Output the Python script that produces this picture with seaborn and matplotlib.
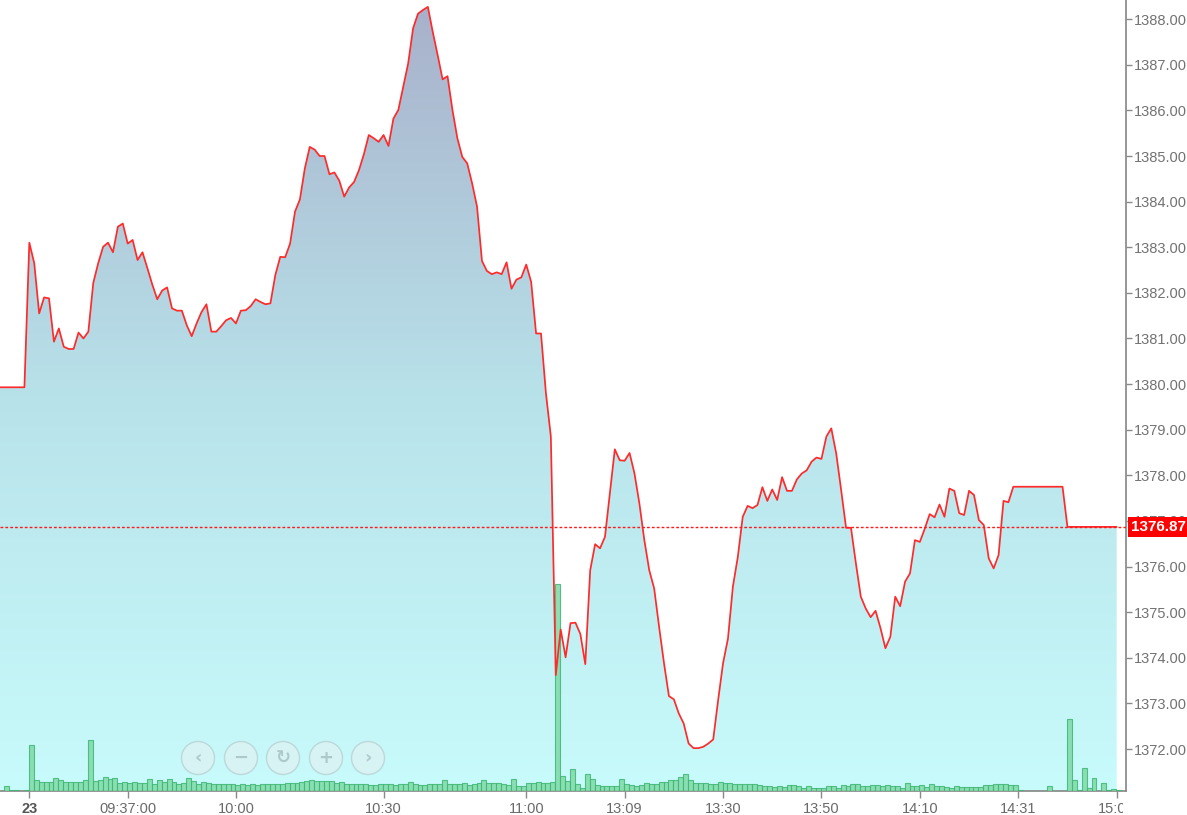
import numpy as np
import pandas as pd
import matplotlib
matplotlib.use('Agg')
import matplotlib.pyplot as plt
import seaborn as sns
from matplotlib.patches import Circle
from matplotlib.colors import LinearSegmentedColormap
from matplotlib.transforms import Bbox, TransformedBbox, IdentityTransform

# ── data: one point per minute bar ──────────────────
price = [
    1379.93, 1379.93, 1379.93, 1379.93, 1379.93, 1379.93,
    1383.10, 1382.65, 1381.55, 1381.90, 1381.88, 1380.93, 1381.22, 1380.82, 1380.77, 1380.77,
    1381.13, 1381.00, 1381.15, 1382.22, 1382.65, 1383.01, 1383.10, 1382.89, 1383.45, 1383.52,
    1383.08, 1383.16, 1382.72, 1382.89, 1382.54, 1382.18, 1381.86, 1382.05, 1382.12, 1381.66,
    1381.61, 1381.61, 1381.29, 1381.05, 1381.33, 1381.58, 1381.75, 1381.15, 1381.15, 1381.27,
    1381.40, 1381.45, 1381.33, 1381.61, 1381.62, 1381.71, 1381.86, 1381.80, 1381.75, 1381.77,
    1382.39, 1382.79, 1382.78, 1383.08, 1383.78, 1384.05, 1384.73, 1385.20, 1385.14, 1385.00,
    1385.00, 1384.60, 1384.64, 1384.46, 1384.11, 1384.31, 1384.43, 1384.69, 1385.04, 1385.46,
    1385.39, 1385.31, 1385.46, 1385.22, 1385.82, 1386.01, 1386.52, 1387.03, 1387.80, 1388.12,
    1388.20, 1388.27, 1387.72, 1387.21, 1386.68, 1386.75, 1386.01, 1385.39, 1384.98, 1384.84,
    1384.40, 1383.89, 1382.70, 1382.48, 1382.41, 1382.45, 1382.41, 1382.67, 1382.09, 1382.29,
    1382.34, 1382.62, 1382.24, 1381.11, 1381.11, 1379.80, 1378.85, 1373.62, 1374.62, 1374.01,
    1374.76, 1374.77, 1374.52, 1373.86, 1375.92, 1376.49, 1376.40, 1376.65, 1377.60, 1378.57,
    1378.33, 1378.32, 1378.49, 1378.04, 1377.38, 1376.58, 1375.92, 1375.52, 1374.68, 1373.88,
    1373.16, 1373.09, 1372.78, 1372.56, 1372.12, 1372.02, 1372.02, 1372.05, 1372.12, 1372.21,
    1373.07, 1373.88, 1374.42, 1375.56, 1376.21, 1377.09, 1377.33, 1377.28, 1377.35, 1377.74,
    1377.44, 1377.69, 1377.46, 1377.96, 1377.66, 1377.66, 1377.91, 1378.04, 1378.11, 1378.30,
    1378.39, 1378.36, 1378.85, 1379.03, 1378.48, 1377.68, 1376.85, 1376.85, 1376.07, 1375.34,
    1375.08, 1374.89, 1375.03, 1374.65, 1374.21, 1374.46, 1375.34, 1375.13, 1375.67, 1375.85,
    1376.58, 1376.54, 1376.83, 1377.15, 1377.08, 1377.36, 1377.09, 1377.71, 1377.66, 1377.17,
    1377.13, 1377.66, 1377.57, 1377.02, 1376.91, 1376.18, 1375.96, 1376.25, 1377.44, 1377.41,
    1377.75, 1377.75, 1377.75, 1377.75, 1377.75, 1377.75, 1377.75, 1377.75, 1377.75, 1377.75,
    1377.75,
    1376.87, 1376.87, 1376.87, 1376.87, 1376.87, 1376.87, 1376.87, 1376.87, 1376.87, 1376.87,
    1376.87,
]

volume = [
    0, 5, 1, 1, 0, 1, 46, 10.7, 9.3, 9.3, 9.3, 13.3, 10.7, 9.3, 9.3, 9.3,
    9.3, 10.7, 50.7, 10, 10.7, 14.3, 11.7, 13.3, 8.3, 9.3, 8.3, 9.3, 8.3, 8.3,
    11.7, 7.3, 10.7, 9.3, 11.7, 9.3, 7.3, 8.3, 13.3, 10, 6.7, 9.3, 7.7, 7.3,
    7.3, 7.3, 7.3, 6.7, 5.7, 6.7, 5.7, 6.7, 5.7, 6.7, 6.7, 6.7, 6.7, 6.7,
    8.3, 8.3, 8.3, 9.3, 10, 10.7, 10, 10, 10, 10, 8.3, 9.3, 7.3, 6.7,
    7.3, 7.3, 6.7, 5.7, 6, 6.7, 6.7, 6.7,
    5.7, 6.7, 7.3, 9.3, 7.3, 5.7, 5.7, 7.3, 6.7, 7.3, 10.7, 7.3, 7.3, 7.3,
    8.3, 5.7, 7.3, 8.3, 10.7, 8.3, 8.3, 8.3, 7.3, 5.7, 12.3, 5, 5, 8.3,
    8.3, 9.3, 8.3, 8.3, 9.3, 207, 15, 10, 22.3, 7.3, 3.3, 17.3, 11.7, 6,
    5, 5, 5, 5, 12.3, 7.3, 6, 5, 6, 8.3, 7.3, 7.3, 9.3, 9.3, 10.7, 10.7,
    14, 17.3, 10.7, 8.3, 8.3, 8.3, 7.3, 6.7, 9.3, 8.3, 8.3, 6.7, 6.7, 7.3,
    6.7, 7.3, 5.7, 5, 5, 4.5,
    5, 4, 5.7, 5.7, 4.7, 3.3, 4.7, 3.3, 3.3, 3.3, 4.7, 4.7, 3.3, 5.7,
    4.7, 7.3, 7.3, 4.7, 4.7, 5.7, 5.7, 4.7, 5.7, 4.7, 4.7, 3.3, 8.3, 4.7,
    4.7, 5.7, 4, 7.3, 4.7, 4.7, 4, 3.3, 4.7,
    4.3, 4.3, 4.3, 4.3, 4.3, 5.7, 5.7, 7.3, 7.3, 7.3, 5.7, 5.7, 1,
    0, 0, 0, 0, 0, 4.7, 0, 0, 0,
    72, 11, 1, 22.7, 2.7, 13.3, 0.3, 8.3, 1.3, 2.3, 1,
]

tick_pos = [6, 26, 48, 78, 107, 127, 147, 167, 187, 207, 227]
tick_labels = ['23', '09:37:00', '10:00', '10:30', '11:00', '13:09',
               '13:30', '13:50', '14:10', '14:31', '15:00']
price_ticks = list(range(1372, 1389))
last_price = 1376.87

df = pd.DataFrame({'idx': np.arange(len(price)), 'price': price, 'volume': volume})
df['bar_x'] = df['idx'] + 0.4

# ── figure ──────────────────────────────────────────
sns.set_theme(style='white')
plt.rcParams['font.family'] = ['Liberation Sans', 'DejaVu Sans']

W, H = 1187, 815
fig = plt.figure(figsize=(W / 100, H / 100), dpi=100)
ax = fig.add_axes([0, 24 / H, 1126 / W, 791 / H])
ax_vol = ax.twinx()
ax_line = ax.twinx()

xmin, xmax = 0.04, 228.9
ymin, ymax = 1371.08, 1388.42

# gradient area under the price line
poly = ax.fill_between(df['idx'], df['price'], ymin, color='none', lw=0)
cmap = LinearSegmentedColormap.from_list('area', ['#c8fbfb', '#b8e2ea', '#a8b0ca'])
grad = np.linspace(0, 1, 256).reshape(-1, 1)
im = ax.imshow(grad, cmap=cmap, origin='lower', aspect='auto',
               extent=[xmin, xmax, ymin, ymax], zorder=1)
im.set_clip_path(poly.get_paths()[0], transform=ax.transData)

# volume bars
sns.barplot(data=df, x='bar_x', y='volume', ax=ax_vol, native_scale=True,
            width=1.0, color='#7ed9a6', saturation=1, edgecolor='#3fb673',
            linewidth=0.8, alpha=0.85, errorbar=None)
ax_vol.set_ylim(0, 791)
ax_vol.set_yticks([])
ax_vol.set_ylabel('')

# price line and last price
sns.lineplot(data=df, x='idx', y='price', ax=ax_line, color='#ff2a2a', linewidth=1.25)
ax_line.axhline(last_price, color='#ff1a1a', linestyle=(0, (2, 1.5)), linewidth=1.0)
ax_line.set_ylim(ymin, ymax)
ax_line.set_yticks([])
ax_line.set_ylabel('')
ax_line.annotate(f'{last_price:.2f}', xy=(1.0, last_price),
                 xycoords=('axes fraction', 'data'), xytext=(3.5, 0),
                 textcoords='offset points', ha='left', va='center',
                 fontsize=11, fontweight='bold', color='white', annotation_clip=False,
                 bbox=dict(boxstyle='square,pad=0.18', fc='#ff0000', ec='none'))

for a in (ax, ax_vol, ax_line):
    for s in a.spines.values():
        s.set_visible(False)
for a in (ax_vol, ax_line):
    a.xaxis.set_visible(False)

ax.set_xlim(xmin, xmax)
ax.set_ylim(ymin, ymax)
ax.yaxis.tick_right()
ax.set_yticks(price_ticks)
ax.set_yticklabels([f'{v:.2f}' for v in price_ticks])
ax.set_xticks(tick_pos)
ax.set_xticklabels(tick_labels)
ax.spines['right'].set_visible(True)
ax.spines['bottom'].set_visible(True)
ax.spines['right'].set_color('#8a8a8a')
ax.spines['bottom'].set_color('#8a8a8a')
ax.tick_params(axis='y', right=True, left=False, labelright=True, labelleft=False,
               length=4, width=1, color='#8a8a8a',
               labelsize=10.5, labelcolor='#727272', pad=2)
ax.tick_params(axis='x', bottom=True, length=5, width=1, color='#8a8a8a',
               labelsize=10.5, labelcolor='#6a6a6a', pad=3)
ax.set_xlabel('')
ax.set_ylabel('')

fig.canvas.draw()
labels = ax.get_xticklabels()
labels[0].set_fontweight('bold')
labels[0].set_color('#555555')
clip = TransformedBbox(Bbox([[0, 0], [1123 / W, 1]]), fig.transFigure)
labels[-1].set_clip_on(True)
labels[-1].set_clip_box(clip)

# navigation buttons
for cx, icon in zip([198, 241, 283, 326, 368], ['‹', '−', '↻', '+', '›']):
    fig.add_artist(Circle((cx, H - 758), 16.5, transform=IdentityTransform(),
                          facecolor='#d8f3f4', edgecolor='#bcd8da', linewidth=1, zorder=5))
    fig.text(cx, H - 758, icon, transform=IdentityTransform(), ha='center', va='center',
             fontsize=13, color='#afc9cb', fontweight='bold', zorder=6,
             family=['DejaVu Sans'])

fig.savefig('out.png', dpi=100)
